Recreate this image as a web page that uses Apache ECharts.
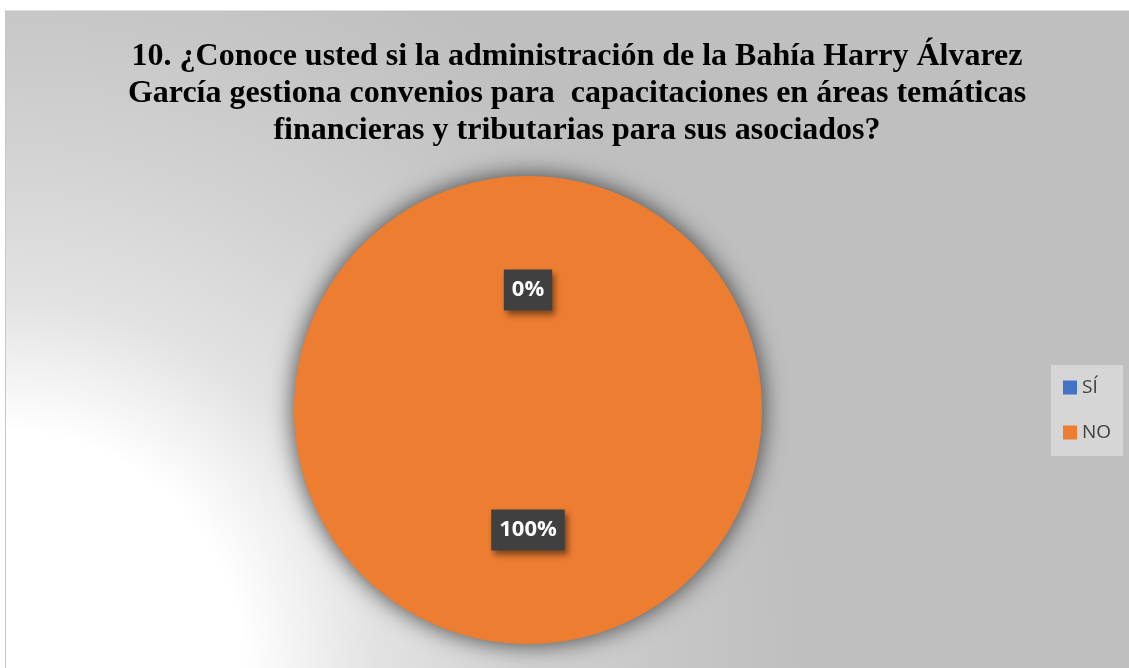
<!DOCTYPE html>
<html>
<head>
<meta charset="utf-8">
<script src="https://cdn.jsdelivr.net/npm/echarts@6/dist/echarts.min.js"></script>
<style>
html,body{margin:0;padding:0;background:#fff;width:1129px;height:668px;overflow:hidden;}
#c{position:absolute;left:5px;top:10px;width:1124px;height:658px;border-left:1px solid #c8c8c8;border-top:1px solid #e0e0e0;}
</style>
</head>
<body>
<div id="c"></div>
<script>
const titleText = "10. ¿Conoce usted si la administración de la Bahía Harry Álvarez\nGarcía gestiona convenios para  capacitaciones en áreas temáticas\nfinancieras y tributarias para sus asociados?";
const categories = ["SÍ", "NO"];
const values = [0, 100];
const colors = ["#4472C4", "#ED7D31"];

const chart = echarts.init(document.getElementById('c'));
chart.setOption({
  backgroundColor: {
    type: 'radial', x: 0, y: 1, r: 1.2,
    colorStops: [
      {offset: 0, color: '#ffffff'},
      {offset: 0.30, color: '#ffffff'},
      {offset: 0.47, color: '#e2e2e2'},
      {offset: 0.66, color: '#d2d2d2'},
      {offset: 0.83, color: '#c7c7c7'},
      {offset: 1, color: '#bfbfbf'}
    ]
  },
  animation: false,
  title: {
    text: titleText,
    left: 566, top: 22,
    textAlign: 'center',
    textStyle: {
      fontFamily: 'Liberation Serif', fontWeight: 'bold', fontSize: 32,
      lineHeight: 37, color: '#000'
    }
  },
  legend: {
    orient: 'vertical',
    left: 1045, top: 354,
    backgroundColor: '#d6d6d6',
    padding: [13, 12, 14, 12],
    itemWidth: 14, itemHeight: 14, itemGap: 26,
    icon: 'rect',
    data: categories,
    textStyle: {fontFamily: 'Open Sans', fontSize: 19, color: '#404040'}
  },
  series: [{
    type: 'pie',
    center: [522, 399],
    radius: 234,
    startAngle: 90,
    clockwise: true,
    stillShowZeroSum: true,
    label: {
      show: true,
      position: 'inside',
      formatter: p => Math.round(p.percent) + '%',
      color: '#fff',
      fontFamily: 'Open Sans',
      fontWeight: 'bold',
      fontSize: 22,
      lineHeight: 24,
      backgroundColor: '#404040',
      padding: [9, 8, 8, 8],
      shadowColor: 'rgba(0,0,0,0.45)',
      shadowBlur: 6,
      shadowOffsetX: 3,
      shadowOffsetY: 4
    },
    labelLine: {show: false},
    itemStyle: {borderWidth: 0, shadowColor: 'rgba(0,0,0,0.7)', shadowBlur: 24},
    emphasis: {disabled: true},
    data: categories.map((n, i) => ({name: n, value: values[i], itemStyle: {color: colors[i]}}))
  }]
});
</script>
</body>
</html>
